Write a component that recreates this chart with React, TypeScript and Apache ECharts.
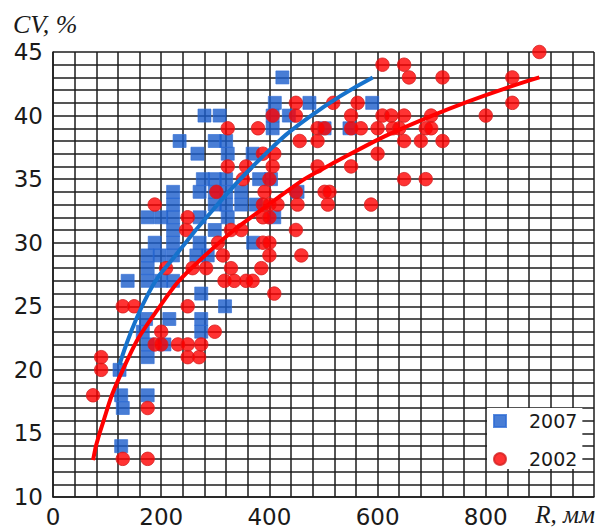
import React, { useEffect, useRef } from 'react';
import * as echarts from 'echarts';

// Axis tick labels
const xTickValues = [0, 200, 400, 600, 800];
const yTickValues = [10, 15, 20, 25, 30, 35, 40, 45];

// 2007 observations: [R (mm), CV (%)]
const obs2007: [number, number][] = [
  [424, 43],
  [410, 41], [474, 41], [590, 41],
  [280, 40], [308, 40], [406, 40], [436, 40],
  [406, 39], [502, 39], [548, 39],
  [234, 38], [299, 38], [320, 38],
  [267, 37], [323, 37], [369, 37],
  [277, 35], [299, 35], [320, 35], [381, 35], [403, 35],
  [222, 34], [271, 34], [299, 34], [320, 34], [348, 34], [452, 34],
  [222, 33], [299, 33], [320, 33], [348, 33], [375, 33],
  [175, 32], [200, 32], [222, 32], [271, 32], [323, 32], [409, 32],
  [222, 31], [299, 31],
  [188, 30], [222, 30], [271, 30], [370, 30],
  [175, 29], [197, 29], [222, 29], [265, 29], [286, 29],
  [175, 28],
  [138, 27], [175, 27], [200, 27], [222, 27],
  [274, 26],
  [318, 25],
  [172, 24], [215, 24], [274, 24],
  [166, 23], [274, 23],
  [175, 22], [206, 22],
  [175, 21],
  [123, 20],
  [126, 18], [175, 18],
  [129, 17],
  [126, 14],
];

// 2002 observations: [R (mm), CV (%)]
const obs2002: [number, number][] = [
  [899, 45],
  [609, 44], [649, 44],
  [658, 43], [720, 43], [849, 43],
  [449, 41], [518, 41], [563, 41], [849, 41],
  [406, 40], [449, 40], [551, 40], [609, 40], [625, 40], [649, 40], [699, 40], [800, 40],
  [323, 39], [379, 39], [489, 39], [502, 39], [551, 39], [569, 39], [600, 39], [628, 39], [640, 39], [689, 39], [699, 39],
  [456, 38], [489, 38], [649, 38], [680, 38], [720, 38],
  [388, 37], [409, 37], [600, 37],
  [323, 36], [357, 36], [406, 36], [489, 36], [551, 36],
  [351, 35], [400, 35], [649, 35], [689, 35],
  [302, 34], [391, 34], [449, 34], [502, 34], [511, 34],
  [188, 33], [388, 33], [400, 33], [415, 33], [452, 33], [508, 33], [588, 33],
  [249, 32], [388, 32], [400, 32],
  [246, 31], [329, 31], [348, 31], [449, 31],
  [305, 30], [388, 30], [400, 30],
  [314, 29], [400, 29], [459, 29],
  [209, 28], [258, 28], [283, 28], [329, 28], [385, 28],
  [317, 27], [335, 27], [357, 27], [369, 27],
  [409, 26],
  [129, 25], [150, 25], [249, 25],
  [200, 23], [299, 23],
  [188, 22], [200, 22], [231, 22], [249, 22], [274, 22],
  [89, 21], [249, 21], [270, 21],
  [89, 20],
  [74, 18],
  [175, 17],
  [129, 13], [175, 13],
];

// Trend curves
const trend2007: [number, number][] = [
  [123, 20.4], [175, 25.9], [234, 29.4], [300, 32.8], [381, 36.5], [474, 39.9], [591, 43.0],
];
const trend2002: [number, number][] = [
  [74, 12.9], [86, 15.0], [129, 20.0], [191, 24.6], [271, 28.6], [418, 33.6], [511, 36.1], [701, 40.0], [899, 43.0],
];

const GRID_COLOR = '#1c1c1c';
const TEXT_COLOR = '#1a1a1a';

export default function App() {
  const ref = useRef<HTMLDivElement>(null);

  useEffect(() => {
    if (!ref.current) return;
    const chart = echarts.init(ref.current, undefined, { renderer: 'svg' });
    const gridLine = { show: true, lineStyle: { color: GRID_COLOR, width: 1.5 } };
    chart.setOption({
      animation: false,
      backgroundColor: '#fff',
      grid: { left: 53, right: 2, top: 52, bottom: 31, containLabel: false },
      xAxis: {
        type: 'value',
        min: 0,
        max: 1000,
        interval: 200,
        axisLine: { show: true, lineStyle: { color: GRID_COLOR, width: 1.5 } },
        axisTick: { show: false },
        minorTick: { show: false, splitNumber: 5 },
        splitLine: gridLine,
        minorSplitLine: gridLine,
        axisLabel: {
          margin: 8,
          fontFamily: 'DejaVu Sans',
          fontSize: 23,
          color: TEXT_COLOR,
          formatter: (v: number) => (xTickValues.includes(v) ? String(v) : ''),
        },
      },
      yAxis: {
        type: 'value',
        min: 10,
        max: 45,
        interval: 5,
        axisLine: { show: true, lineStyle: { color: GRID_COLOR, width: 1.5 } },
        axisTick: { show: false },
        minorTick: { show: false, splitNumber: 5 },
        splitLine: gridLine,
        minorSplitLine: gridLine,
        axisLabel: {
          margin: 10,
          fontFamily: 'DejaVu Sans',
          fontSize: 23,
          color: TEXT_COLOR,
          formatter: (v: number) => (yTickValues.includes(v) ? String(v) : ''),
        },
      },
      legend: {
        data: [
          { name: '2007', icon: 'rect' },
          { name: '2002', icon: 'circle' },
        ],
        orient: 'vertical',
        left: 487,
        top: 408,
        padding: [3, 5, 0, 6],
        itemGap: 18,
        itemWidth: 12,
        itemHeight: 12,
        backgroundColor: '#fff',
        textStyle: {
          fontFamily: 'DejaVu Sans',
          fontSize: 19,
          lineHeight: 20,
          color: TEXT_COLOR,
          padding: [0, 0, 0, 18],
        },
      },
      graphic: [
        {
          type: 'text',
          x: 13,
          y: 24,
          style: {
            text: 'CV, %',
            font: 'italic 26px "Liberation Serif"',
            fill: TEXT_COLOR,
            align: 'left',
            verticalAlign: 'middle',
          },
        },
        {
          type: 'text',
          x: 595,
          y: 514,
          style: {
            text: 'R, мм',
            font: 'italic 25px "Liberation Serif"',
            fill: TEXT_COLOR,
            align: 'right',
            verticalAlign: 'middle',
          },
        },
      ],
      series: [
        {
          name: '2007',
          type: 'scatter',
          symbol: 'rect',
          symbolSize: 13,
          data: obs2007,
          itemStyle: { color: '#1a5ccb', borderColor: '#2f6dd4', borderWidth: 0.8 },
          z: 2,
        },
        {
          name: '2002',
          type: 'scatter',
          symbol: 'circle',
          symbolSize: 13.5,
          data: obs2002,
          itemStyle: { color: '#ff0000', borderColor: '#d42020', borderWidth: 1 },
          z: 3,
        },
        {
          name: 'trend2007',
          type: 'line',
          data: trend2007,
          smooth: true,
          showSymbol: false,
          symbol: 'none',
          lineStyle: { color: '#1672cc', width: 4 },
          z: 4,
        },
        {
          name: 'trend2002',
          type: 'line',
          data: trend2002,
          smooth: true,
          showSymbol: false,
          symbol: 'none',
          lineStyle: { color: '#ff0000', width: 4 },
          z: 5,
        },
      ],
    });
    return () => chart.dispose();
  }, []);

  return (
    <div
      ref={ref}
      style={{ position: 'fixed', left: 0, top: 0, width: 597, height: 528 }}
    />
  );
}
